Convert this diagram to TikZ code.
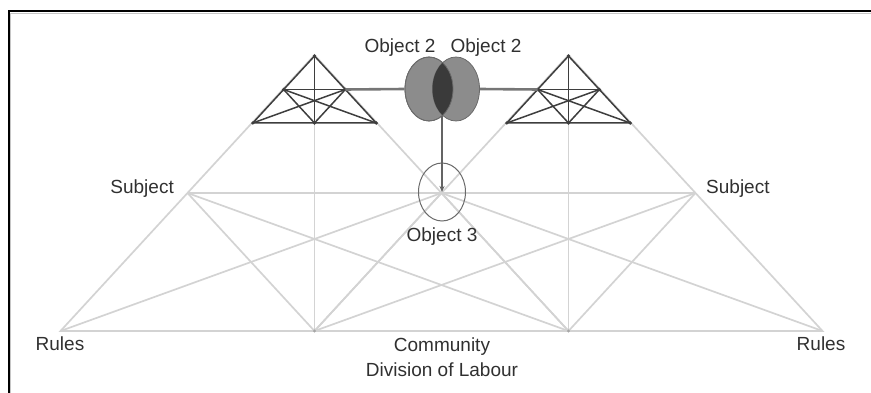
\documentclass[tikz,border=0pt]{standalone}
\usepackage{fontspec}
\setmainfont{Liberation Sans}
\usetikzlibrary{shapes.geometric,arrows.meta}
\definecolor{biglinec}{HTML}{D3D3D3}
\definecolor{smalllinec}{HTML}{3E3E3E}
\definecolor{connc}{HTML}{767676}
\definecolor{ellfill}{HTML}{8C8C8C}
\definecolor{ellline}{HTML}{6A6A6A}
\definecolor{lensfill}{HTML}{3A3A3A}
\definecolor{txtc}{HTML}{303030}
\tikzset{
  bigline/.style={draw=biglinec, line width=1.7pt},
  smallline/.style={draw=smalllinec, line width=1.5pt},
  conn/.style={draw=connc, line width=2.6pt},
  vdot/.style={fill=smalllinec},
  bdot/.style={fill=gray!70},
  lbl/.style={text=txtc, inner sep=0pt, font=\fontsize{19}{22}\selectfont},
  obj2/.style={ellipse, inner sep=0pt, minimum width=48pt, minimum height=64pt, fill=ellfill, draw=ellline, line width=0.8pt},
  obj3/.style={ellipse, inner sep=0pt, minimum width=47pt, minimum height=58pt, draw=ellline, line width=1pt},
  arrowline/.style={draw=connc!85!black, line width=2pt, -{Stealth[length=6pt,width=5pt]}},
  frameline/.style={draw=black, line width=2pt}
}
\begin{document}
\begin{tikzpicture}[x=1pt,y=-1pt]
\useasboundingbox (0,0) rectangle (871,393);
% frame
\draw[draw=gray!45, line width=1.2pt] (10.8,393) -- (10.8,13.8) -- (871,13.8);
\draw[frameline] (8.5,393) -- (8.5,11.5) -- (871,11.5);

% ---- big left activity triangle
\coordinate (LA) at (314.5,55);
\coordinate (LR) at (60.5,331);
\coordinate (LC) at (314.5,331);
\coordinate (LD) at (568.5,331);
\coordinate (LS) at (187.5,193);
\coordinate (LO) at (441.5,193);
% ---- big right activity triangle
\coordinate (RA) at (568.5,55);
\coordinate (RR) at (822.5,331);
\coordinate (RC) at (568.5,331);
\coordinate (RD) at (314.5,331);
\coordinate (RS) at (695.5,193);
\coordinate (RO) at (441.5,193);

\draw[bigline] (LA) -- (LR) -- (LD) -- cycle;
\draw[bigline] (LS) -- (LO);
\draw[bigline] (LA) -- (LC);
\draw[bigline] (LS) -- (LC);
\draw[bigline] (LS) -- (LD);
\draw[bigline] (LR) -- (LO);
\draw[bigline] (LO) -- (LC);

\draw[bigline] (RA) -- (RR) -- (RD) -- (RA);
\draw[bigline] (RS) -- (RO);
\draw[bigline] (RA) -- (RC);
\draw[bigline] (RS) -- (RC);
\draw[bigline] (RS) -- (RD);
\draw[bigline] (RR) -- (RO);
\draw[bigline] (RO) -- (RC);

\foreach \p in {LC,RC} \fill[bdot] (\p) circle (1.6pt);

% ---- small left triangle
\coordinate (sLA) at (314.5,56);
\coordinate (sLR) at (252.8,123);
\coordinate (sLC) at (314.5,123);
\coordinate (sLD) at (376.2,123);
\coordinate (sLS) at (283.6,89.5);
\coordinate (sLO) at (345.3,89.5);
% ---- small right triangle
\coordinate (sRA) at (568.5,56);
\coordinate (sRR) at (630.2,123);
\coordinate (sRC) at (568.5,123);
\coordinate (sRD) at (506.8,123);
\coordinate (sRS) at (599.4,89.5);
\coordinate (sRO) at (537.6,89.5);

\draw[smallline] (sLA) -- (sLR) -- (sLD) -- cycle;
\draw[smallline] (sLS) -- (sLO);
\draw[smallline] (sLA) -- (sLC);
\draw[smallline] (sLS) -- (sLC);
\draw[smallline] (sLS) -- (sLD);
\draw[smallline] (sLR) -- (sLO);
\draw[smallline] (sLO) -- (sLC);

\draw[smallline] (sRA) -- (sRR) -- (sRD) -- cycle;
\draw[smallline] (sRS) -- (sRO);
\draw[smallline] (sRA) -- (sRC);
\draw[smallline] (sRS) -- (sRC);
\draw[smallline] (sRS) -- (sRD);
\draw[smallline] (sRR) -- (sRO);
\draw[smallline] (sRO) -- (sRC);

\foreach \p in {sLA,sLR,sLC,sLD,sLS,sLO,sRA,sRR,sRC,sRD,sRS,sRO}
  \fill[vdot] (\p) circle (1.8pt);

% ---- Object 2 ellipses
\node[obj2] (o2l) at (429,89) {};
\node[obj2, minimum width=47pt] (o2r) at (456,89) {};
\begin{scope}
  \clip (429,89) ellipse [x radius=24pt, y radius=32pt];
  \fill[lensfill] (456,89) ellipse [x radius=23.5pt, y radius=32pt];
\end{scope}
\draw[draw=ellline, line width=0.8pt] (429,89) ellipse [x radius=24pt, y radius=32pt];

% connectors
\draw[conn] (sLO) -- (o2l.west);
\draw[conn] (sRO) -- (o2r.east);

% ---- Object 3
\node[obj3] (o3) at (442,192) {};
\coordinate (lens) at (442,116);
\draw[arrowline] (lens) -- (o3.center);

% ---- labels
\node[lbl, anchor=base] (t2l) at (400,53) {Object 2};
\node[lbl, anchor=base] (t2r) at (486,53) {Object 2};
\node[lbl, anchor=base east] (tsl) at (174,194) {Subject};
\node[lbl, anchor=base west] (tsr) at (706,194) {Subject};
\node[lbl, anchor=base] (t3) at (442,241) {Object 3};
\node[lbl, anchor=base] (trl) at (60,350) {Rules};
\node[lbl, anchor=base] (trr) at (821,350) {Rules};
\node[lbl, anchor=base] (tcom) at (442,351) {Community};
\node[lbl, anchor=base] (tdiv) at (442,376) {Division of Labour};
\end{tikzpicture}
\end{document}
